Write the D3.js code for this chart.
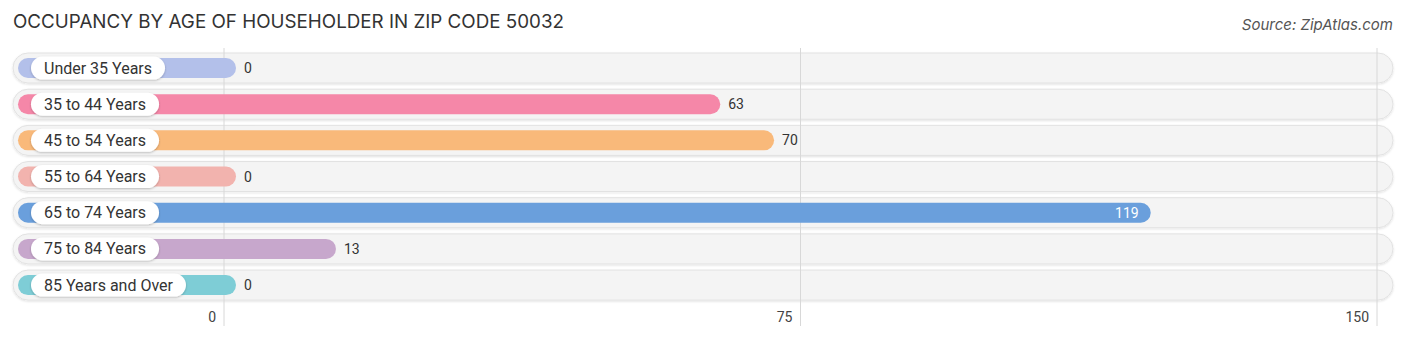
<!DOCTYPE html>
<html>
<head>
<meta charset="utf-8">
<script src="https://cdn.jsdelivr.net/npm/d3@7"></script>
<style>
  body { margin: 0; background: #fff; }
  svg { display: block; font-family: Roboto, "Noto Sans", sans-serif; }
</style>
</head>
<body>
<script>
// data
var categories = ["Under 35 Years", "35 to 44 Years", "45 to 54 Years", "55 to 64 Years",
  "65 to 74 Years", "75 to 84 Years", "85 Years and Over"];
var values = [0, 63, 70, 0, 119, 13, 0];
var colors = ["#b3c0ea", "#f587a8", "#f9b97a", "#f2b3ae", "#6a9fdc", "#c7a7cc", "#7ecdd6"];
var tickValues = [0, 75, 150];

var svgWidth = 1406;
var svgHeight = 341;

var svg = d3.select("body")
  .append("svg")
  .attr("width", svgWidth)
  .attr("height", svgHeight);

// x scale: value -> pixel
var x = d3.scaleLinear()
  .domain([0, 150])
  .range([224, 1377]);

// y band for rows
var y = d3.scaleBand()
  .domain(categories)
  .range([51.2, 301.9])
  .paddingInner(0.17)
  .paddingOuter(0.05);

var defs = svg.append("defs");
var f = defs.append("filter").attr("id", "shadow").attr("x", "-10%").attr("y", "-40%")
  .attr("width", "120%").attr("height", "180%");
f.append("feDropShadow").attr("dx", 0).attr("dy", 1).attr("stdDeviation", 1.2)
  .attr("flood-color", "#000").attr("flood-opacity", 0.25);

var f2 = defs.append("filter").attr("id", "soft").attr("x", "-5%").attr("y", "-40%")
  .attr("width", "110%").attr("height", "180%");
f2.append("feDropShadow").attr("dx", 0).attr("dy", 1).attr("stdDeviation", 1)
  .attr("flood-color", "#000").attr("flood-opacity", 0.12);

// title and source
svg.append("text")
  .attr("x", 13).attr("y", 28)
  .attr("font-size", "18.8px")
  .attr("fill", "#333")
  .style("font-family", "Inter, 'Noto Sans', sans-serif")
  .text("OCCUPANCY BY AGE OF HOUSEHOLDER IN ZIP CODE 50032");

svg.append("text")
  .attr("x", 1393).attr("y", 30)
  .attr("text-anchor", "end")
  .attr("font-size", "15px")
  .attr("font-style", "italic")
  .attr("fill", "#555")
  .style("font-family", "Inter, 'Noto Sans', sans-serif")
  .text("Source: ZipAtlas.com");

// background pills
var rowH = y.bandwidth();
svg.append("g").selectAll("rect")
  .data(categories)
  .enter()
  .append("rect")
  .attr("x", 13)
  .attr("y", d => y(d))
  .attr("width", 1393 - 13)
  .attr("height", rowH)
  .attr("rx", rowH / 2)
  .attr("fill", "#f4f4f4")
  .attr("stroke", "#e2e2e2")
  .attr("stroke-width", 1)
  .attr("filter", "url(#soft)");

// gridlines
svg.append("g").selectAll("line")
  .data(tickValues)
  .enter()
  .append("line")
  .attr("x1", d => x(d)).attr("x2", d => x(d))
  .attr("y1", 48).attr("y2", 326)
  .attr("stroke", "#d8d8d8")
  .attr("stroke-width", 1);

// tick labels
svg.append("g").selectAll("text")
  .data(tickValues)
  .enter()
  .append("text")
  .attr("x", d => x(d) - 8)
  .attr("y", 322)
  .attr("text-anchor", "end")
  .attr("font-size", "14px")
  .attr("fill", "#444")
  .text(d => d);

var rows = categories.map((c, i) => ({ cat: c, value: values[i], color: colors[i] }));

var barH = 20;
var g = svg.append("g");

// bars
g.selectAll(".bar")
  .data(rows)
  .enter()
  .append("rect")
  .attr("class", "bar")
  .attr("x", 18)
  .attr("y", d => y(d.cat) + rowH / 2 - barH / 2)
  .attr("width", d => x(d.value) + 12 - 18)
  .attr("height", barH)
  .attr("rx", barH / 2)
  .attr("fill", d => d.color);

// label pills
var labels = g.selectAll(".lab")
  .data(rows)
  .enter()
  .append("g")
  .attr("class", "lab");

labels.append("text")
  .attr("class", "labtext")
  .attr("x", 44)
  .attr("y", d => y(d.cat) + rowH / 2 + 5.5)
  .attr("font-size", "16px")
  .attr("fill", "#333")
  .text(d => d.cat);

labels.each(function (d) {
  var t = d3.select(this).select("text");
  var w = t.node().getComputedTextLength();
  d3.select(this).insert("rect", "text")
    .attr("x", 31)
    .attr("y", y(d.cat) + rowH / 2 - 11.5)
    .attr("width", w + 26)
    .attr("height", 23)
    .attr("rx", 11.5)
    .attr("fill", "#fff")
    .attr("filter", "url(#shadow)");
});

// values
g.selectAll(".val")
  .data(rows)
  .enter()
  .append("text")
  .attr("class", "val")
  .attr("x", d => d.value > 100 ? x(d.value) : x(d.value) + 20)
  .attr("y", d => y(d.cat) + rowH / 2 + 5)
  .attr("text-anchor", d => d.value > 100 ? "end" : "start")
  .attr("font-size", "14px")
  .attr("fill", d => d.value > 100 ? "#fff" : "#333")
  .text(d => d.value);
</script>
</body>
</html>
